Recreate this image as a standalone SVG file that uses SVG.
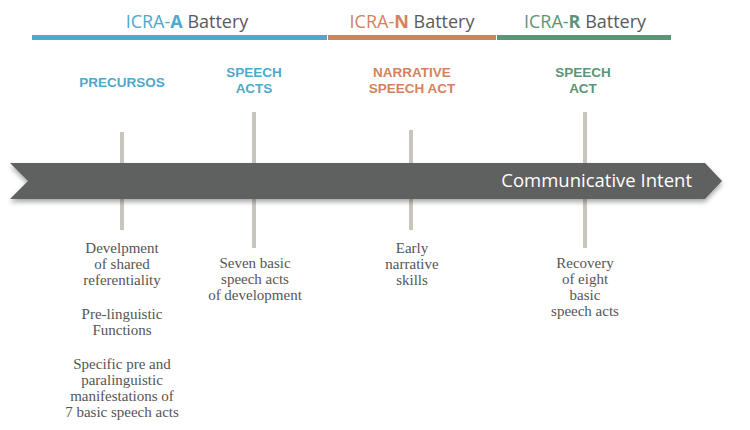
<svg xmlns="http://www.w3.org/2000/svg" width="750" height="430" viewBox="0 0 750 430">
<defs>
<style>
.hdr{font-family:"Open Sans","Noto Sans",sans-serif;font-size:18px;text-anchor:middle;fill:#5a5a5a}
.sub{font-family:"Liberation Sans",Arial,sans-serif;font-size:13.5px;font-weight:bold;text-anchor:middle}
.desc{font-family:"Liberation Serif","DejaVu Serif",serif;font-size:15px;text-anchor:middle;fill:#555}
.tick{stroke:#c9c5bd;stroke-width:4}
.blue{fill:#4ea9cc}.orange{fill:#d4825e}.green{fill:#5a9577}
</style>
<filter id="sh" x="-5%" y="-30%" width="110%" height="180%">
<feDropShadow dx="0" dy="3" stdDeviation="2.5" flood-color="#000" flood-opacity="0.35"/>
</filter>
</defs>
<g id="batteries">
<rect x="32" y="35" width="295" height="5" class="blue"/>
<rect x="328" y="35" width="168" height="5" class="orange"/>
<rect x="497" y="35" width="174" height="5" class="green"/>
<text class="hdr" x="187" y="28"><tspan class="blue">ICRA-</tspan><tspan class="blue" font-weight="bold">A</tspan> Battery</text>
<text class="hdr" x="412" y="28"><tspan class="orange">ICRA-</tspan><tspan class="orange" font-weight="bold">N</tspan> Battery</text>
<text class="hdr" x="585" y="28"><tspan class="green">ICRA-</tspan><tspan class="green" font-weight="bold">R</tspan> Battery</text>
</g>
<g id="connectors">
<line class="tick" x1="122" y1="132" x2="122" y2="230"/>
<line class="tick" x1="254" y1="112" x2="254" y2="248"/>
<line class="tick" x1="411" y1="130" x2="411" y2="230"/>
<line class="tick" x1="585" y1="112" x2="585" y2="248"/>
</g>
<g id="timeline">
<polygon points="10,163 705,163 722,181 705,199 10,199 28,181" fill="#5f6160" filter="url(#sh)"/>
<text x="692" y="187" font-family="Open Sans,Noto Sans,sans-serif" font-size="18.5" fill="#fff" text-anchor="end">Communicative Intent</text>
</g>
<g id="precursos">
<text class="sub blue" x="122" y="87">PRECURSOS</text>
<text class="desc" x="122" y="253">Develpment</text>
<text class="desc" x="122" y="269">of shared</text>
<text class="desc" x="122" y="285">referentiality</text>
<text class="desc" x="122" y="319">Pre-linguistic</text>
<text class="desc" x="122" y="335">Functions</text>
<text class="desc" x="122" y="369">Specific pre and</text>
<text class="desc" x="122" y="385">paralinguistic</text>
<text class="desc" x="122" y="401">manifestations of</text>
<text class="desc" x="122" y="417">7 basic speech acts</text>
</g>
<g id="speech-acts">
<text class="sub blue" x="254" y="77"><tspan x="254">SPEECH</tspan><tspan x="254" dy="16">ACTS</tspan></text>
<text class="desc" x="255" y="268">Seven basic</text>
<text class="desc" x="255" y="284">speech acts</text>
<text class="desc" x="255" y="300">of development</text>
</g>
<g id="narrative">
<text class="sub orange" x="412" y="77"><tspan x="412">NARRATIVE</tspan><tspan x="412" dy="16">SPEECH ACT</tspan></text>
<text class="desc" x="412" y="253">Early</text>
<text class="desc" x="412" y="269">narrative</text>
<text class="desc" x="412" y="285">skills</text>
</g>
<g id="speech-act">
<text class="sub green" x="583" y="77"><tspan x="583">SPEECH</tspan><tspan x="583" dy="16">ACT</tspan></text>
<text class="desc" x="585" y="268">Recovery</text>
<text class="desc" x="585" y="284">of eight</text>
<text class="desc" x="585" y="300">basic</text>
<text class="desc" x="585" y="316">speech acts</text>
</g>
</svg>
